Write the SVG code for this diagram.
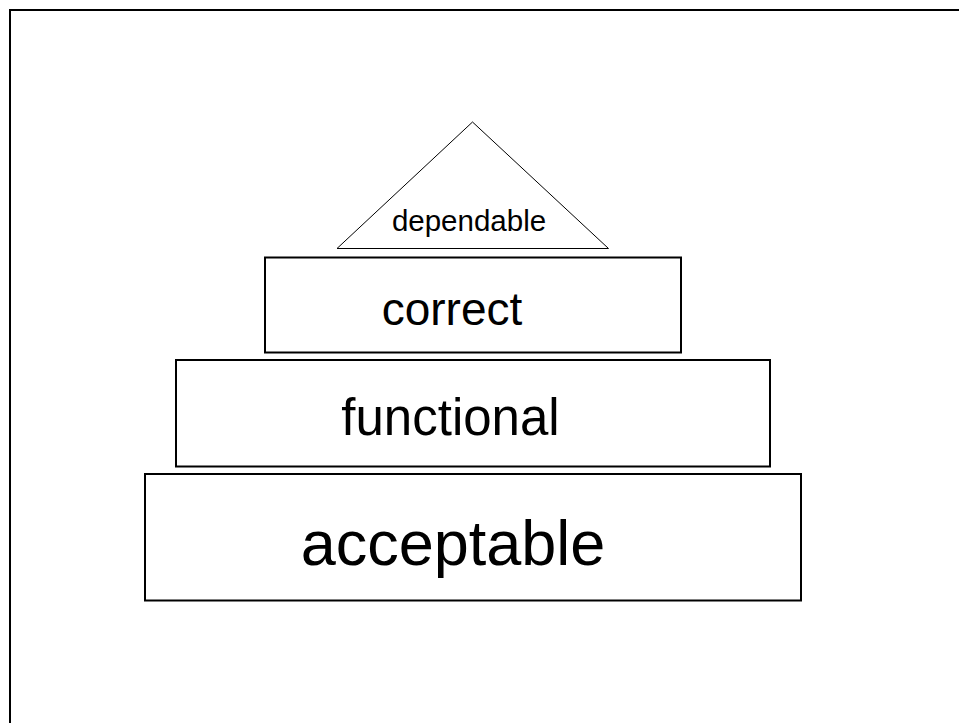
<svg xmlns="http://www.w3.org/2000/svg" width="959" height="723" viewBox="0 0 959 723">
  <style>
    .tier { fill: #ffffff; stroke: #000000; stroke-width: 2; }
    .peak { fill: #ffffff; stroke: #000000; stroke-width: 1; }
    .label { font-family: "Liberation Sans", Arial, sans-serif; fill: #000000; text-anchor: middle; }
  </style>
  <rect x="0" y="0" width="959" height="723" fill="#ffffff"/>
  <!-- page frame -->
  <path d="M10,723 V10 H959" fill="none" stroke="#000000" stroke-width="2"/>
  <g id="connectors"/>
  <g id="dependable">
    <polygon class="peak" points="472.5,122 337,248.5 608.5,248.5"/>
    <text class="label" x="469" y="230.5" font-size="29.5">dependable</text>
  </g>
  <g id="correct">
    <rect class="tier" x="265" y="257.5" width="416" height="95"/>
    <text class="label" x="452" y="325" font-size="46">correct</text>
  </g>
  <g id="functional">
    <rect class="tier" x="176" y="360" width="594" height="106.5"/>
    <text class="label" x="450.5" y="435" font-size="51">functional</text>
  </g>
  <g id="acceptable">
    <rect class="tier" x="145" y="474" width="656" height="126.5"/>
    <text class="label" x="453" y="565" font-size="63">acceptable</text>
  </g>
</svg>
